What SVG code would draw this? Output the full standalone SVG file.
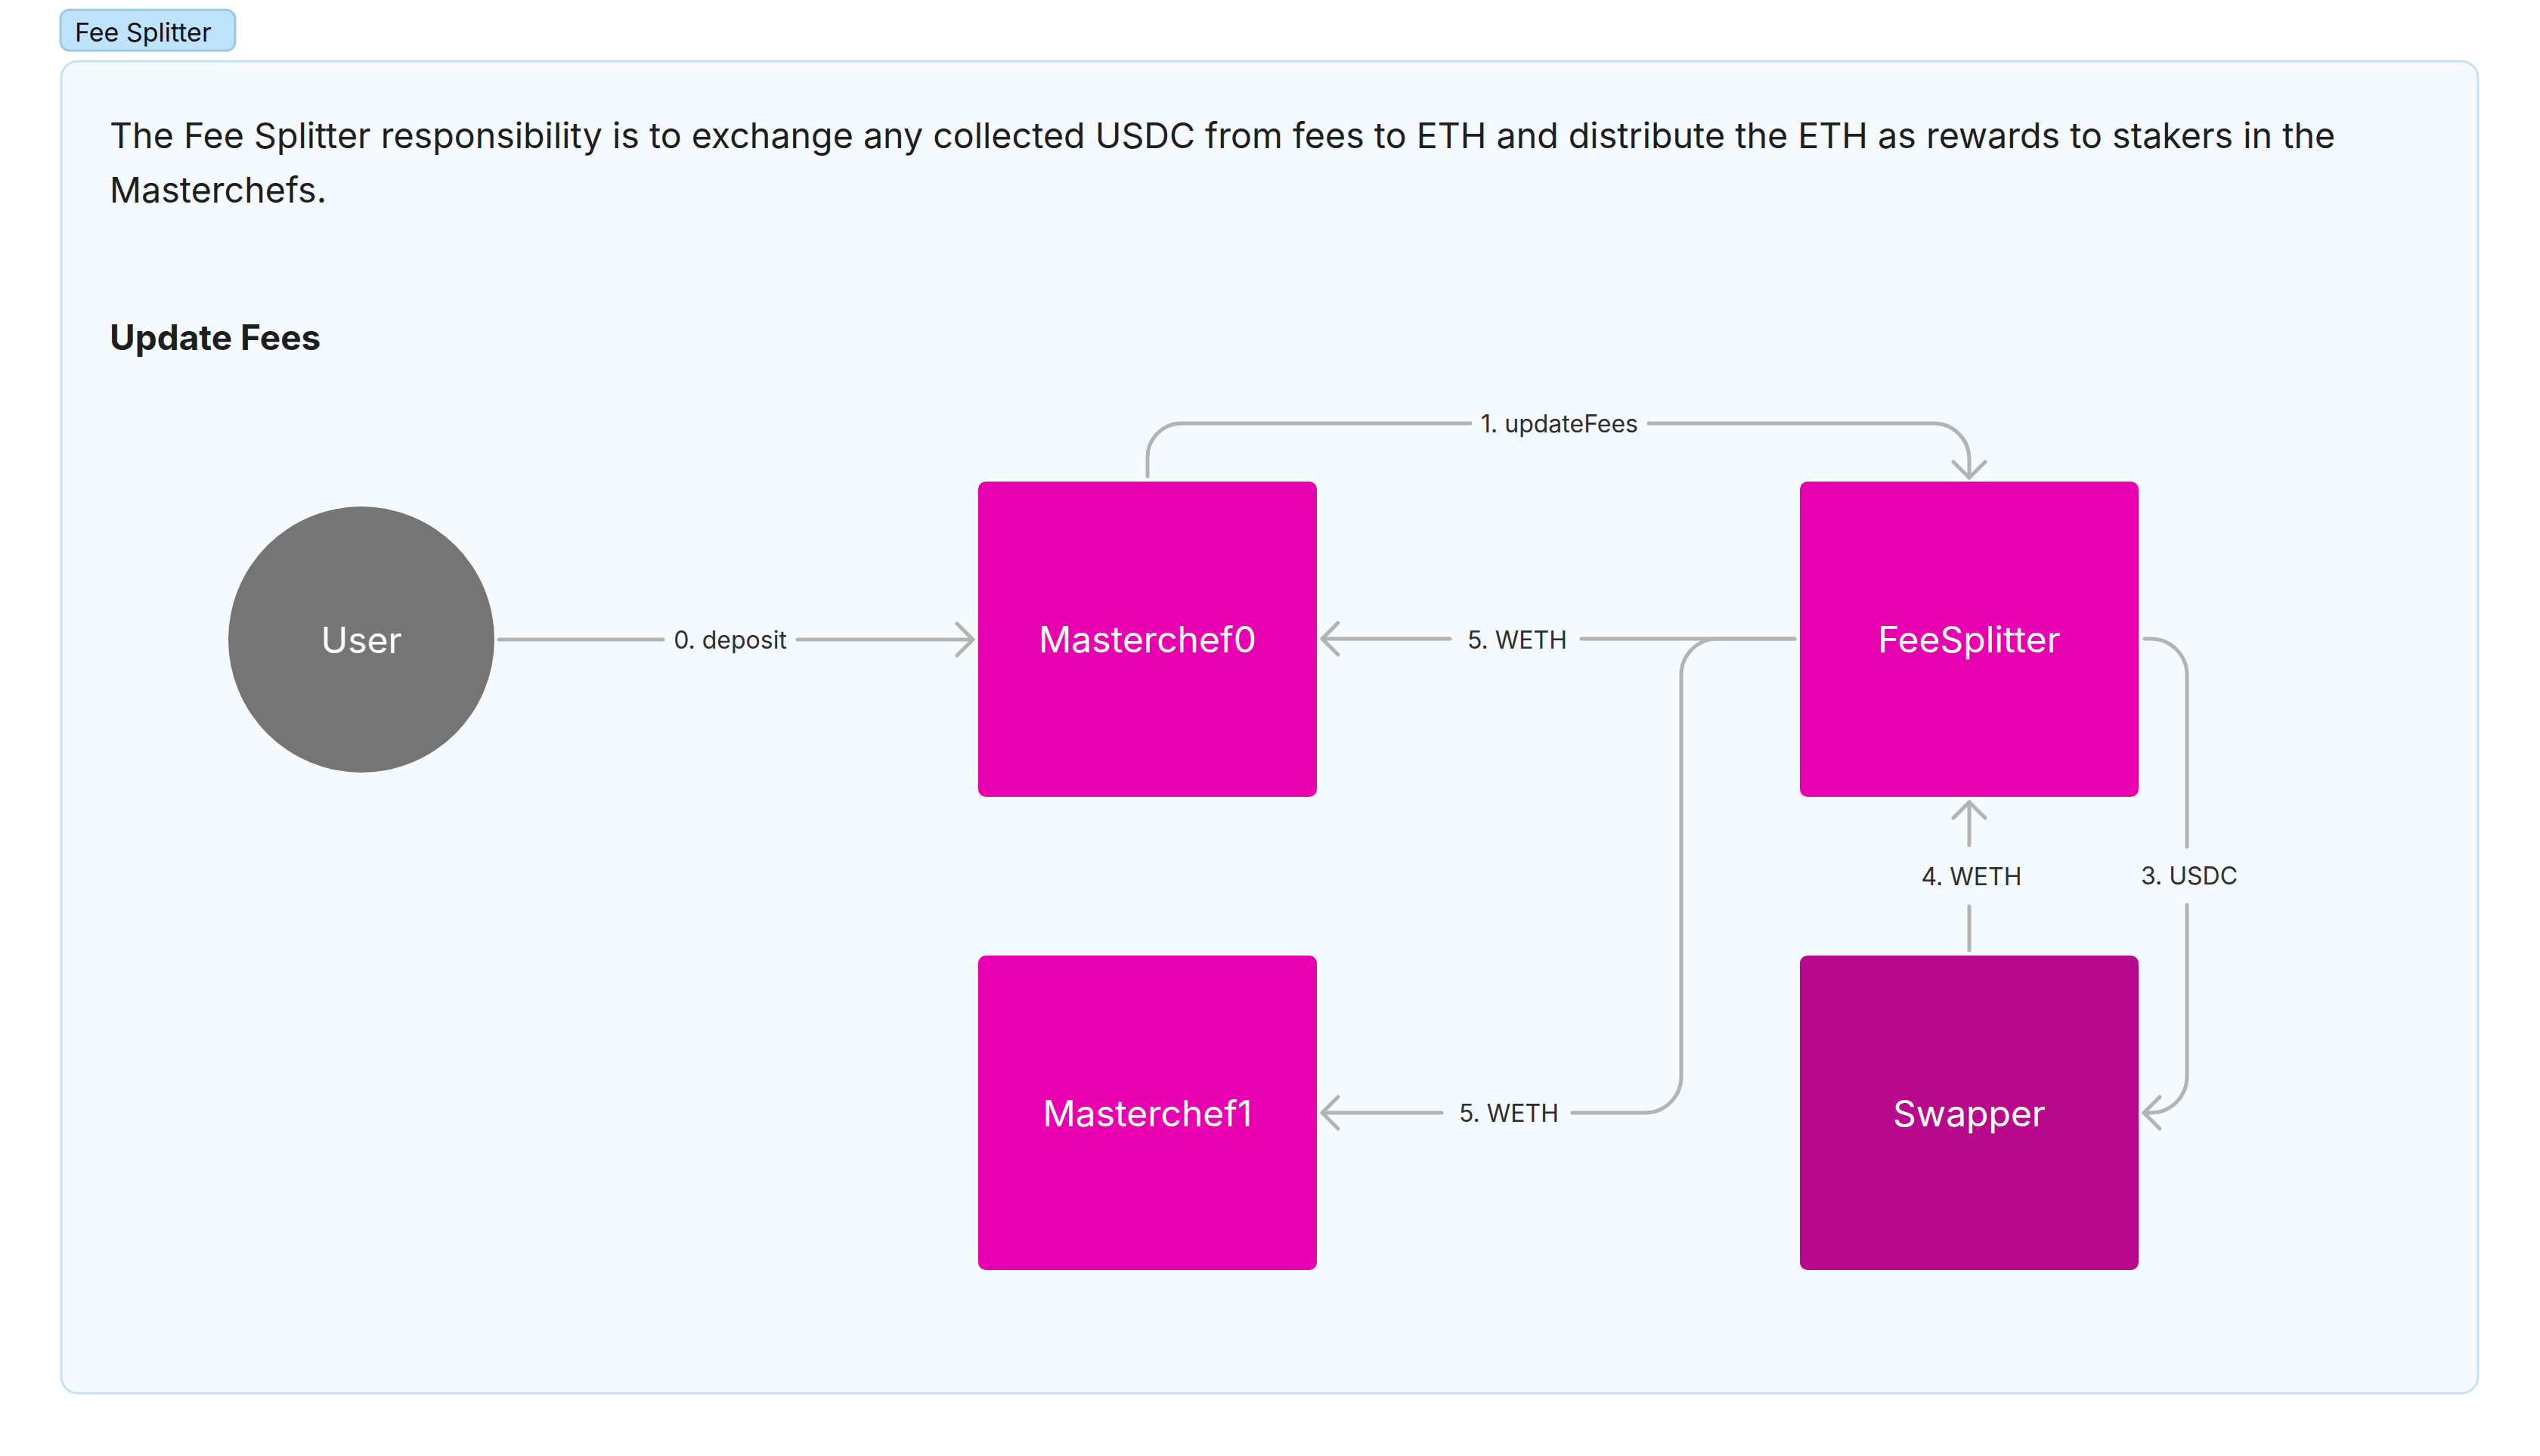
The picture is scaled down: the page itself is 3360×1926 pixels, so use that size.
<svg xmlns="http://www.w3.org/2000/svg" width="3360" height="1926" viewBox="0 0 3360 1926">
<defs>
<style>
.bg{fill:#ffffff}
.frame{fill:#f5faff;stroke:#c2e2f8;stroke-width:3}
.tab{fill:#bfe3fc;stroke:#9fc6e2;stroke-width:3}
.tabtxt{font-family:Inter,"Liberation Sans",sans-serif;font-size:34px;fill:#111111}
.para{font-family:Inter,"Liberation Sans",sans-serif;font-size:46.6px;fill:#1e1e1e}
.head{font-family:Inter,"Liberation Sans",sans-serif;font-size:46px;font-weight:700;fill:#1e1e1e}
.box{fill:#e800b0}
.box2{fill:#b8098c}
.user{fill:#757575}
.ntxt{font-family:Inter,"Liberation Sans",sans-serif;font-size:48px;fill:#ffffff;text-anchor:middle}
.edge{fill:none;stroke:#b3b3b3;stroke-width:5;stroke-linecap:round;stroke-linejoin:round}
.lbl{font-family:Inter,"Liberation Sans",sans-serif;font-size:32px;fill:#2e2e2e;text-anchor:middle}
</style>
<marker id="ah" markerUnits="userSpaceOnUse" markerWidth="60" markerHeight="60" viewBox="-30 -30 60 60" refX="0" refY="0" orient="auto" overflow="visible">
<path d="M-21,-21 L0,0 L-21,21" fill="none" stroke="#b3b3b3" stroke-width="5" stroke-linecap="round" stroke-linejoin="round"/>
</marker>
</defs>
<rect class="bg" x="0" y="0" width="3360" height="1926"/>
<g id="container">
<rect class="frame" x="81" y="81" width="3197" height="1762" rx="22"/>
<rect class="tab" x="80" y="13" width="231" height="54" rx="12"/>
<text class="tabtxt" x="99" y="55">Fee Splitter</text>
<text class="para" x="145" y="196">The Fee Splitter responsibility is to exchange any collected USDC from fees to ETH and distribute the ETH as rewards to stakers in the</text>
<text class="para" x="145" y="268">Masterchefs.</text>
<text class="head" x="145" y="463">Update Fees</text>
</g>
<g id="connectors">
<g id="e0">
<path class="edge" d="M660,846 L877,846"/>
<path class="edge" d="M1055,846 L1287,846" marker-end="url(#ah)"/>
<text class="lbl" x="966" y="858">0. deposit</text>
</g>
<g id="e1">
<path class="edge" d="M1518,630 L1518,605 A45,45 0 0 1 1563,560 L1945,560"/>
<path class="edge" d="M2181,560 L2558,560 A47,47 0 0 1 2605,607 L2605,632" marker-end="url(#ah)"/>
<text class="lbl" x="2063" y="572">1. updateFees</text>
</g>
<g id="e3">
<path class="edge" d="M2837,845 L2845,845 A48,48 0 0 1 2893,893 L2893,1120"/>
<path class="edge" d="M2893,1197 L2893,1424 A48,48 0 0 1 2845,1472 L2836,1472" marker-end="url(#ah)"/>
<text class="lbl" x="2896" y="1170">3. USDC</text>
</g>
<g id="e4">
<path class="edge" d="M2605,1257 L2605,1199"/>
<path class="edge" d="M2605,1118 L2605,1061" marker-end="url(#ah)"/>
<text class="lbl" x="2608" y="1171">4. WETH</text>
</g>
<g id="e5a">
<path class="edge" d="M2374,845 L2092,845"/>
<path class="edge" d="M1918,845 L1749,845" marker-end="url(#ah)"/>
<text class="lbl" x="2007" y="858">5. WETH</text>
</g>
<g id="e5b">
<path class="edge" d="M2374,845 L2272,845 A48,48 0 0 0 2224,893 L2224,1424 A48,48 0 0 1 2176,1472 L2080,1472"/>
<path class="edge" d="M1907,1472 L1749,1472" marker-end="url(#ah)"/>
<text class="lbl" x="1996" y="1484">5. WETH</text>
</g>
</g>
<g id="User">
<circle class="user" cx="478" cy="846" r="176"/>
<text class="ntxt" x="478" y="864">User</text>
</g>
<g id="Masterchef0">
<rect class="box" x="1294" y="637" width="448" height="417" rx="10"/>
<text class="ntxt" x="1518" y="863">Masterchef0</text>
</g>
<g id="FeeSplitter">
<rect class="box" x="2381" y="637" width="448" height="417" rx="10"/>
<text class="ntxt" x="2605" y="863">FeeSplitter</text>
</g>
<g id="Masterchef1">
<rect class="box" x="1294" y="1264" width="448" height="416" rx="10"/>
<text class="ntxt" x="1518" y="1490">Masterchef1</text>
</g>
<g id="Swapper">
<rect class="box2" x="2381" y="1264" width="448" height="416" rx="10"/>
<text class="ntxt" x="2605" y="1490">Swapper</text>
</g>
</svg>
